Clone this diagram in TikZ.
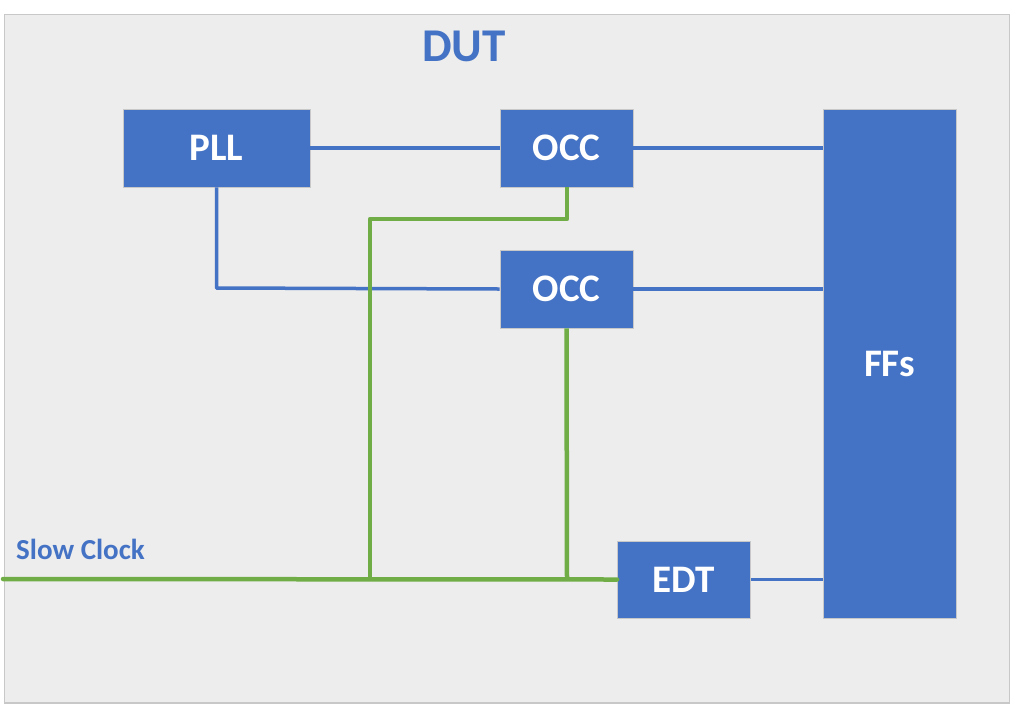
\documentclass[tikz,border=0pt]{standalone}
\usepackage{fontspec}
\setmainfont{Carlito}
\definecolor{boxblue}{HTML}{4472C4}
\definecolor{clkgreen}{HTML}{70AD47}
\definecolor{bgrey}{HTML}{EDEDED}
\definecolor{edgegrey}{HTML}{C8C8C8}
\tikzset{
  blk/.style={rectangle, fill=boxblue, draw=edgegrey, line width=0.8pt, inner sep=0pt, text=white, font=\fontsize{39}{41}\selectfont\bfseries},
  bluewire/.style={draw=boxblue, line width=3.5pt},
  greenwire/.style={draw=clkgreen, line width=4.5pt},
}
\begin{document}
\begin{tikzpicture}[x=1pt,y=-1pt]
\useasboundingbox (0,0) rectangle (1012,705);
\fill[white] (0,0) rectangle (1012,705);
\draw[fill=bgrey, draw=edgegrey, line width=1.5pt] (4.5,14.5) rectangle (1009.5,703);
\node[text=boxblue, font=\fontsize{47}{49}\selectfont\bfseries] (dut) at (464,46) {DUT};
\node[text=boxblue, font=\fontsize{29}{31}\selectfont\bfseries, anchor=west, inner sep=0pt] (slow) at (16,549) {Slow Clock};

\node[blk, minimum width=187pt, minimum height=78pt] (pll) at (216.5,148) {PLL};
\node[blk, minimum width=133pt, minimum height=78pt] (occa) at (566.5,148) {OCC};
\node[blk, minimum width=133pt, minimum height=78pt] (occb) at (566.5,289) {OCC};
\node[blk, minimum width=133pt, minimum height=77pt] (edt) at (684,579.5) {EDT};
\node[blk, minimum width=133pt, minimum height=509pt] (ffs) at (889.5,363.5) {FFs};

\coordinate (clkin) at (3,579);
\coordinate (tapa) at (370,579);
\coordinate (tapb) at (567,579);
\coordinate (pllturn) at (216.5,288);

% blue wires
\draw[bluewire] (pll.east) -- (occa.west);
\draw[bluewire] (occa.east) -- (occa.east -| ffs.west);
\draw[bluewire, line join=round] (pll.south) -- (pllturn) -- (occb.west);
\draw[bluewire] (occb.east) -- (occb.east -| ffs.west);
\draw[bluewire] (edt.east) -- (edt.east -| ffs.west);

% green wires
\draw[greenwire, line cap=round] (clkin) -- (edt.west);
\draw[greenwire, line join=round] (tapa) -- (370,219) -- (567,219) -- (567,187);
\draw[greenwire] (occb.south) -- (tapb);
\end{tikzpicture}
\end{document}
